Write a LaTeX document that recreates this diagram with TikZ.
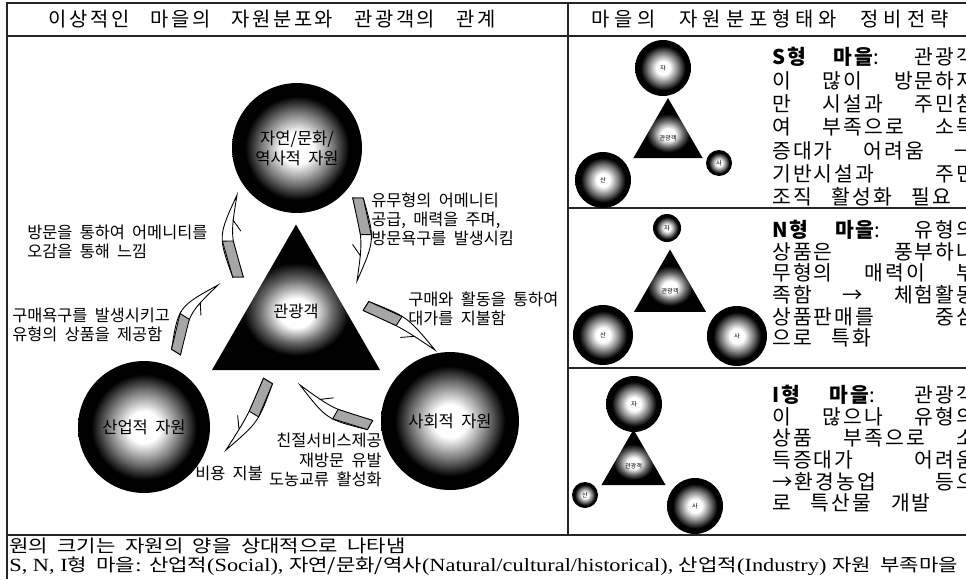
\documentclass[tikz,border=0pt]{standalone}
\usepackage{fontspec}
\setmainfont{Liberation Serif}
\newfontfamily\kr{Noto Sans CJK KR}[WordSpace=2]
\newfontfamily\krwide{Noto Sans CJK KR}[LetterSpace=10,WordSpace=3]
\newfontfamily\krheadL{Noto Sans CJK KR}[LetterSpace=13,WordSpace=3]
\newfontfamily\krheadR{Noto Sans CJK KR}[LetterSpace=25,WordSpace=2.5]
\newfontfamily\krfoot{Noto Sans CJK KR}[FakeStretch=1.2,WordSpace=2]
\newfontfamily\rmfoot{Liberation Serif}[FakeStretch=1.2,Scale=1.06]
\usetikzlibrary{calc,shapes.geometric}

% shadings for the resource balls and the tourist triangle
\pgfdeclareradialshading{resball}{\pgfpoint{0bp}{0bp}}{color(0bp)=(white); color(6bp)=(white); color(14bp)=(black!55); color(20bp)=(black); color(50bp)=(black)}
\pgfdeclareradialshading{tourshade}{\pgfpoint{0bp}{-6bp}}{color(0bp)=(white); color(5bp)=(white); color(11bp)=(black!60); color(16bp)=(black); color(50bp)=(black)}

\tikzset{
  swoosh/.style={draw, line width=0.5pt, fill=white, to path={
    ($(\tikztostart)!3pt!90:(\tikztotarget)$)
    .. controls ($(\tikztostart)!0.5!(\tikztotarget)!#1pt+3.5pt!90:(\tikztotarget)$) .. (\tikztotarget)
    .. controls ($(\tikztostart)!0.5!(\tikztotarget)!#1pt-3.5pt!90:(\tikztotarget)$) .. ($(\tikztostart)!3pt!-90:(\tikztotarget)$)
    -- cycle
    ($(\tikztotarget)!0.3!(\tikztostart)!0.63*#1pt-2.2pt!90:(\tikztotarget)$) -- ($(\tikztotarget)!0.44!(\tikztostart)!0.73*#1pt-7.5pt!90:(\tikztotarget)$)}},
  swooshtail/.style={draw, line width=0.5pt, fill=black!35, to path={
    ($(\tikztostart)!3pt!90:(\tikztotarget)$)
    -- ($(\tikztostart)!0.44!(\tikztotarget)!0.73*#1pt+3.1pt!90:(\tikztotarget)$)
    -- ($(\tikztostart)!0.44!(\tikztotarget)!0.73*#1pt-3.1pt!90:(\tikztotarget)$)
    -- ($(\tikztostart)!3pt!-90:(\tikztotarget)$) -- cycle}}
}

\begin{document}
\begin{tikzpicture}[x=0.02cm, y=-0.02cm,
  rule/.style={line width=0.8pt, black!85},
  res/.style={circle, shading=resball, inner sep=0pt, minimum size=#1*0.04cm, font=\kr\fontsize{9.4}{11.3}\selectfont, align=center},
  tourist/.style={regular polygon, regular polygon sides=3, shading=tourshade, inner sep=0pt, minimum size=#1*0.02cm, font=\kr\fontsize{3.5}{4}\selectfont},
  mini/.style={circle, shading=resball, inner sep=0pt, minimum size=#1*0.04cm, font=\kr\fontsize{3.5}{4}\selectfont},
  note/.style={font=\kr\fontsize{9.3}{10.9}\selectfont, inner sep=0pt},
  head/.style={font=#1\fontsize{11.3}{13}\selectfont, inner sep=0pt},
  panel/.style={font=\krwide\fontsize{11.6}{#1}\selectfont, text width=4.06cm, align=justify, inner sep=0pt, anchor=north west}]
\useasboundingbox (0,0) rectangle (966,579);

% frame
\draw[rule] (7,579) -- (7,3) -- (966,3);
\draw[rule] (7,36) -- (966,36);
\draw[rule] (568,3) -- (568,535);
\draw[rule] (568,208) -- (966,208);
\draw[rule] (568,368) -- (966,368);
\draw[rule] (7,535) -- (966,535);

\node[head=\krheadL] (leftHead) at (272,19) {이상적인 마을의 자원분포와 관광객의 관계};
\node[head=\krheadR] (rightHead) at (770,19) {마을의 자원분포형태와 정비전략};

% ideal village
\node[res=65] (nat) at (297,148) {자연/문화/\\역사적 자원};
\node[res=66] (ind) at (144,427) {산업적 자원};
\node[res=69] (soc) at (450,421) {사회적 자원};
\node[tourist=194] (tour) at (296,321.5) {};
\node[note] (tourTxt) at ([yshift=6pt]tour.center) {관광객};

\coordinate (visitS) at (238,277);   \coordinate (visitE) at (237,195);
\coordinate (supplyS) at (358,198);  \coordinate (supplyE) at (357,281);
\coordinate (goodsS) at (176,352);   \coordinate (goodsE) at (218,285);
\coordinate (payS) at (366,306);     \coordinate (payE) at (435,350);
\coordinate (serviceS) at (370,425); \coordinate (serviceE) at (300,385);
\coordinate (costS) at (268,381);    \coordinate (costE) at (226,450);

\path (visitS) edge[swoosh=7.6] (visitE) edge[swooshtail=7.6] (visitE);
\path (supplyS) edge[swoosh=6.5] (supplyE) edge[swooshtail=6.5] (supplyE);
\path (goodsS) edge[swoosh=9] (goodsE) edge[swooshtail=9] (goodsE);
\path (payS) edge[swoosh=4] (payE) edge[swooshtail=4] (payE);
\path (serviceS) edge[swoosh=6] (serviceE) edge[swooshtail=6] (serviceE);
\path (costS) edge[swoosh=4] (costE) edge[swooshtail=4] (costE);

\node[note, anchor=west, align=left] (visit) at (27,242) {방문을 통하여 어메니티를\\오감을 통해 느낌};
\node[note, anchor=west, align=left] (supply) at (371,219) {유무형의 어메니티\\공급, 매력을 주며,\\방문욕구를 발생시킴};
\node[note, anchor=west, align=left] (goods) at (12,325) {구매욕구를 발생시키고\\유형의 상품을 제공함};
\node[note, anchor=west, align=left] (pay) at (408,309) {구매와 활동을 통하여\\대가를 지불함};
\node[note, anchor=east, align=right] (service) at (382,460) {친절서비스제공\\재방문 유발\\도농교류 활성화};
\node[note, anchor=west] (cost) at (195,473) {비용 지불};

% S type
\node[mini=28] (sNat) at (663,68) {자};
\node[tourist=80] (sTour) at (668,138) {관광객};
\node[mini=28] (sInd) at (603,180) {산};
\node[mini=13] (sSoc) at (719,163) {사};
\node[panel=13.3] (sText) at (772,47) {{\bfseries S형 마을}: 관광객\linebreak
이 많이 방문하지\linebreak
만 시설과 주민참\linebreak
여 부족으로 소득\linebreak
증대가 어려움 →\linebreak
기반시설과 주민\linebreak
조직 활성화 필요};

% N type
\node[mini=14] (nNat) at (667,228) {자};
\node[tourist=83] (nTour) at (670,291) {관광객};
\node[mini=30] (nInd) at (603,335) {산};
\node[mini=30] (nSoc) at (737,336) {사};
\node[panel=12.3] (nText) at (772,220) {{\bfseries N형 마을}: 유형의\linebreak
상품은 풍부하나\linebreak
무형의 매력이 부\linebreak
족함 → 체험활동\linebreak
상품판매를 중심\linebreak
으로 특화};

% I type
\node[mini=28] (iNat) at (634,404) {자};
\node[tourist=74] (iTour) at (633.5,466.5) {관광객};
\node[mini=13] (iInd) at (585,495) {산};
\node[mini=28] (iSoc) at (695,506) {사};
\node[panel=12.3] (iText) at (772,385) {{\bfseries I형 마을}: 관광객\linebreak
이 많으나 유형의\linebreak
상품 부족으로 소\linebreak
득증대가 어려움\linebreak
→환경농업 등으\linebreak
로 특산물 개발};

% legend
\node[anchor=west, inner sep=0pt, font=\krfoot\fontsize{10}{12}\selectfont] (legend) at (9,546) {원의 크기는 자원의 양을 상대적으로 나타냄};
\node[anchor=west, inner sep=0pt, font=\rmfoot\fontsize{10}{12}\selectfont] (types) at (9,566) {S, N, I{\krfoot 형 마을}: {\krfoot 산업적}(Social), {\krfoot 자연/문화/역사}(Natural/cultural/historical), {\krfoot 산업적}(Industry) {\krfoot 자원 부족마을}};
\end{tikzpicture}
\end{document}
